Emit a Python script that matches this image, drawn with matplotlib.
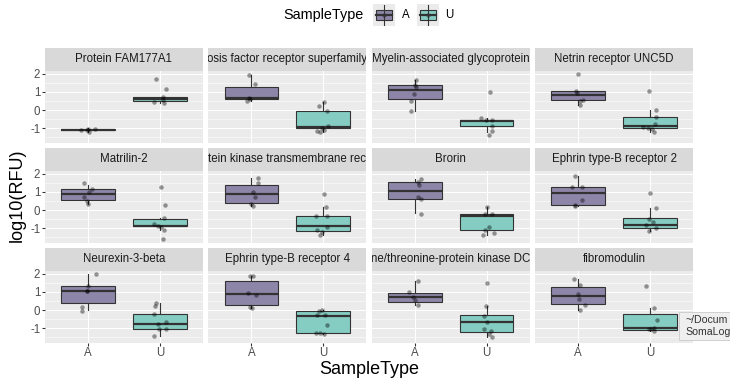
import matplotlib
matplotlib.use("Agg")
import matplotlib.pyplot as plt
from matplotlib.patches import Rectangle
from matplotlib.lines import Line2D

# facet titles, as far as the strips show them
PROTEINS = [
    "Protein FAM177A1",
    "osis factor receptor superfamily",
    "Myelin-associated glycoprotein",
    "Netrin receptor UNC5D",
    "Matrilin-2",
    "tein kinase transmembrane rec",
    "Brorin",
    "Ephrin type-B receptor 2",
    "Neurexin-3-beta",
    "Ephrin type-B receptor 4",
    "ne/threonine-protein kinase DC",
    "fibromodulin",
]
GROUPS = ["A", "U"]
Y_TICKS = [-1, 0, 1, 2]
Y_TICK_LABELS = ["-1", "0", "1", "2"]

# box stats per facet: (whisker low, q1, median, q3, whisker high)
BOX_A = [
    (-1.20, -1.12, -1.08, -1.05, -1.00),
    (0.50, 0.62, 0.67, 1.27, 1.94),
    (-0.07, 0.59, 1.11, 1.39, 1.63),
    (0.28, 0.56, 0.80, 1.04, 1.07),
    (0.35, 0.55, 0.87, 1.13, 1.40),
    (0.20, 0.41, 0.87, 1.37, 1.78),
    (-0.17, 0.63, 1.06, 1.56, 1.69),
    (0.22, 0.30, 0.91, 1.28, 1.87),
    (0.00, 0.37, 1.07, 1.30, 1.96),
    (0.09, 0.28, 0.87, 1.57, 1.85),
    (0.28, 0.46, 0.70, 0.96, 1.57),
    (0.00, 0.33, 0.78, 1.24, 1.70),
]
BOX_U = [
    (0.39, 0.47, 0.60, 0.73, 0.73),
    (-1.19, -1.00, -0.95, -0.04, 0.46),
    (-1.20, -0.89, -0.60, -0.54, -0.41),
    (-1.19, -1.00, -0.90, -0.37, 0.00),
    (-1.09, -0.89, -0.85, -0.47, -0.46),
    (-1.37, -1.13, -0.89, -0.33, 0.17),
    (-1.37, -1.09, -0.30, -0.24, 0.17),
    (-1.17, -0.98, -0.80, -0.44, 0.13),
    (-1.43, -1.02, -0.74, -0.20, 0.41),
    (-1.33, -1.26, -0.33, -0.06, 0.00),
    (-1.48, -1.20, -0.63, -0.26, 0.22),
    (-1.17, -1.11, -0.96, -0.22, 0.13),
]

# jittered sample points (log10 RFU) and their horizontal jitter
PTS_A = [
    [-1.07, -1.02, -1.20, -1.05, -1.10],
    [1.94, 1.43, 0.68, 0.50, 0.60],
    [1.63, 1.39, 1.26, 0.89, 0.52, -0.07],
    [2.00, 1.07, 0.93, 0.56, 0.48, 0.28],
    [1.46, 1.13, 1.00, 0.69, 0.48, 0.35],
    [1.78, 1.46, 1.00, 0.69, 0.35, 0.20],
    [1.69, 1.56, 1.37, 0.69, 0.59, -0.20],
    [1.89, 1.24, 1.28, 0.57, 0.22, 0.25],
    [1.96, 1.33, 1.07, 1.02, 0.15, -0.04],
    [1.85, 1.85, 0.93, 0.83, 0.19, 0.09],
    [1.57, 1.00, 0.70, 0.56, 0.28],
    [1.70, 1.39, 0.61, 0.28, 0.00, 0.90],
]
JIT_A = [
    [-0.10, 0.00, 0.02, 0.09, -0.02],
    [-0.03, 0.05, -0.03, -0.06, -0.02],
    [0.02, 0.00, 0.01, -0.01, -0.06, -0.06],
    [0.00, -0.03, -0.01, 0.07, 0.02, 0.02],
    [-0.06, 0.05, 0.02, -0.06, -0.02, 0.00],
    [0.09, 0.09, 0.02, 0.05, 0.00, 0.02],
    [0.08, 0.05, 0.06, 0.05, 0.08, 0.08],
    [-0.05, -0.08, 0.05, 0.06, -0.05, -0.04],
    [0.11, 0.00, -0.01, -0.02, -0.08, -0.08],
    [-0.02, 0.02, -0.05, 0.06, -0.02, 0.01],
    [0.04, -0.08, -0.02, 0.00, 0.04],
    [-0.06, 0.02, 0.01, 0.10, 0.02, 0.00],
]
PTS_U = [
    [1.69, 1.17, 0.70, 0.56, 0.46, 0.39],
    [0.46, 0.22, -0.04, -0.89, -1.00, -1.15, -1.19, -1.07],
    [0.98, -0.41, -0.56, -0.56, -0.87, -1.15, -1.39],
    [1.04, 0.00, -0.37, -0.74, -0.93, -0.96, -1.06, -1.19],
    [1.24, 0.30, -0.46, -0.76, -0.85, -0.91, -1.09, -1.59],
    [0.87, 0.17, -0.35, -0.35, -0.91, -1.09, -1.22, -1.37],
    [0.17, -0.24, -0.24, -0.91, -1.09, -1.26, -1.37],
    [0.91, 0.13, -0.48, -0.67, -0.80, -0.98, -1.17],
    [0.41, 0.22, -0.22, -0.74, -0.67, -1.02, -1.02, -1.43],
    [-0.04, 0.00, -0.28, -0.28, -1.26, -1.33, -0.83, -1.26],
    [1.48, 0.22, -0.30, -0.63, -1.04, -1.15, -1.30, -1.48],
    [1.33, 0.13, -0.57, -1.02, -0.96, -1.17, -1.05],
]
JIT_U = [
    [-0.05, 0.08, 0.05, 0.04, -0.08, 0.06],
    [0.01, -0.06, 0.05, 0.07, -0.02, -0.09, -0.05, 0.01],
    [0.05, -0.08, -0.01, 0.08, 0.07, 0.08, 0.04],
    [-0.02, 0.09, 0.08, 0.07, -0.09, -0.03, 0.03, 0.05],
    [0.01, 0.07, 0.06, -0.08, -0.02, 0.02, 0.06, 0.05],
    [0.01, 0.04, -0.10, 0.06, 0.05, -0.08, -0.01, -0.05],
    [0.01, -0.02, 0.07, 0.04, -0.02, 0.10, -0.05],
    [0.00, 0.08, -0.02, 0.04, -0.06, 0.09, -0.01],
    [-0.05, -0.07, -0.08, -0.03, 0.08, -0.01, 0.09, -0.08],
    [-0.06, -0.02, -0.08, 0.03, -0.10, 0.01, 0.05, -0.04],
    [0.00, -0.01, -0.04, 0.01, -0.03, 0.06, 0.03, 0.08],
    [-0.06, 0.05, 0.10, -0.02, 0.05, 0.06, 0.01],
]

FILL = {"A": "#8E86A9", "U": "#85CCC2"}
EDGE = "#333333"
W, H = 730, 387
SMALL = 11.5  # strip / tick / legend-label size

plt.rcParams.update({
    "font.family": ["Liberation Sans", "DejaVu Sans"],
    "axes.unicode_minus": False,
})

fig = plt.figure(figsize=(W / 72, H / 72), dpi=72)
fig.patch.set_facecolor("white")


def px_axes(x0, y0, w, h):
    return fig.add_axes([x0 / W, 1 - (y0 + h) / H, w / W, h / H])


left, right, top = 45, 693, 48
gap = 5.5
pw = (right - left - 3 * gap) / 4
strip_h, panel_h = 22.5, 72

for i, name in enumerate(PROTEINS):
    r, c = divmod(i, 4)
    x0 = left + c * (pw + gap)
    y0 = top + r * (strip_h + panel_h + gap)

    sax = px_axes(x0, y0, pw, strip_h)
    sax.set_facecolor("#D9D9D9")
    sax.set_xticks([])
    sax.set_yticks([])
    for sp in sax.spines.values():
        sp.set_visible(False)
    sax.text(0.5, 0.5, name, ha="center", va="center", fontsize=SMALL,
             color="#1A1A1A", transform=sax.transAxes, clip_on=True)

    ax = px_axes(x0, y0 + strip_h, pw, panel_h)
    ax.set_facecolor("#EBEBEB")
    ax.set_axisbelow(True)
    for sp in ax.spines.values():
        sp.set_visible(False)
    ax.set_xlim(0.4, 2.6)
    ax.set_ylim(-1.78, 2.17)
    ax.set_xticks([1, 2])
    ax.set_yticks(Y_TICKS)
    ax.set_yticks([-1.5, -0.5, 0.5, 1.5], minor=True)
    ax.grid(which="major", color="white", linewidth=1.07)
    ax.grid(which="minor", axis="y", color="white", linewidth=0.53)
    ax.tick_params(which="minor", length=0)
    ax.tick_params(which="major", length=2.75, width=1.07, color=EDGE,
                   labelcolor="#4D4D4D", labelsize=SMALL, pad=2)

    if c == 0:
        ax.set_yticklabels(Y_TICK_LABELS)
    else:
        ax.tick_params(axis="y", length=0, labelleft=False)
    if r == 2:
        ax.set_xticklabels(GROUPS)
    else:
        ax.tick_params(axis="x", length=0, labelbottom=False)

    for pos, g, box, pts, jit in [(1, "A", BOX_A[i], PTS_A[i], JIT_A[i]),
                                  (2, "U", BOX_U[i], PTS_U[i], JIT_U[i])]:
        lo, q1, med, q3, hi = box
        stats = [dict(whislo=lo, q1=q1, med=med, q3=q3, whishi=hi, fliers=[])]
        ax.bxp(stats, positions=[pos], widths=0.75, patch_artist=True,
               showcaps=False, showfliers=False, manage_ticks=False,
               boxprops=dict(facecolor=FILL[g], edgecolor=EDGE, linewidth=1.1),
               medianprops=dict(color=EDGE, linewidth=2.2),
               whiskerprops=dict(color=EDGE, linewidth=1.1))
        ax.scatter([pos + j for j in jit], pts, s=20, color="black",
                   alpha=0.4, linewidths=0, zorder=5)

# axis titles
fig.text((left + right) / 2 / W, 1 - 370 / H, "SampleType", ha="center",
         va="center", fontsize=18)
fig.text(17 / W, 1 - 195 / H, "log10(RFU)", ha="center", va="center",
         rotation=90, fontsize=18)

# legend on top
fig.text(323 / W, 1 - 15 / H, "SampleType", ha="center", va="center",
         fontsize=14.4)
for kx, g, lx in [(373, "A", 406), (417, "U", 449)]:
    kax = px_axes(kx, 4, 22, 22)
    kax.set_xlim(0, 1)
    kax.set_ylim(0, 1)
    kax.set_facecolor("#EBEBEB")
    kax.set_xticks([])
    kax.set_yticks([])
    for sp in kax.spines.values():
        sp.set_visible(False)
    kax.add_line(Line2D([0.5, 0.5], [0.05, 0.95], color=EDGE, linewidth=1.1))
    kax.add_patch(Rectangle((0.12, 0.27), 0.76, 0.46, facecolor=FILL[g],
                            edgecolor=EDGE, linewidth=1.1))
    kax.add_line(Line2D([0.12, 0.88], [0.5, 0.5], color=EDGE, linewidth=2.2))
    kax.scatter([0.5], [0.5], s=20, color="black", alpha=0.4, linewidths=0)
    fig.text(lx / W, 1 - 15 / H, g, ha="center", va="center", fontsize=SMALL)

# hover tooltip captured in the screenshot (runs off the right edge)
fig.patches.append(Rectangle((679 / W, 1 - 340 / H), 60 / W, 28 / H,
                             transform=fig.transFigure, facecolor="#EFEFEF",
                             edgecolor="#C8C8C8", linewidth=0.8, zorder=10))
fig.text(685 / W, 1 - 326 / H, "~/Docum\nSomaLog", ha="left", va="center",
         fontsize=10.5, color="#333333", linespacing=1.25, zorder=11)

fig.savefig("out.png", dpi=72)
